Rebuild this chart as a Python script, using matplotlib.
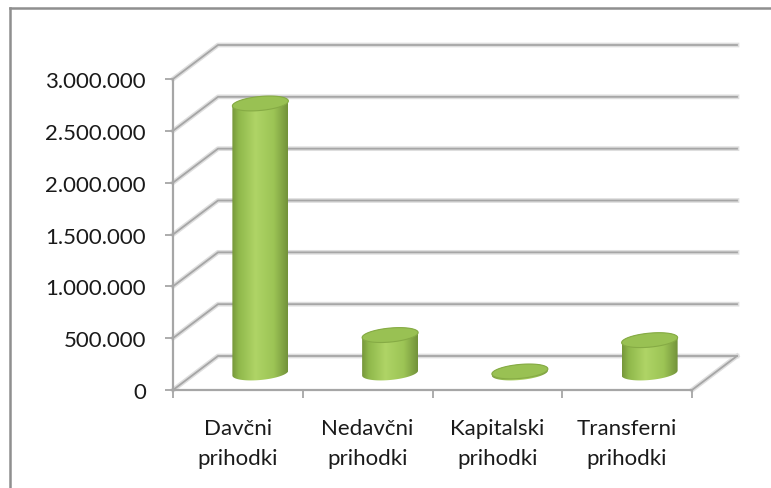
import numpy as np
import matplotlib
matplotlib.use('Agg')
import matplotlib.pyplot as plt
from matplotlib.patches import Polygon
from matplotlib.colors import LinearSegmentedColormap
from matplotlib.lines import Line2D

# ---- podatki ----
kategorije = ['Davčni\nprihodki', 'Nedavčni\nprihodki', 'Kapitalski\nprihodki', 'Transferni\nprihodki']
vrednosti = [2600000, 366000, 15000, 317000]
y_ticks = [0, 500000, 1000000, 1500000, 2000000, 2500000, 3000000]

plt.rcParams['font.family'] = ['Lato', 'DejaVu Sans']

W, H = 771, 489
fig = plt.figure(figsize=(W / 100, H / 100), dpi=100)

# sprednja ravnina grafa v pikslih
x0, x1, y0, y1 = 173, 692, 391, 80
ax = fig.add_axes([x0 / W, 1 - y0 / H, (x1 - x0) / W, (y0 - y1) / H])
ax.patch.set_visible(False)
ax.set_autoscale_on(False)
ax.set_xlim(0, 4)
ax.set_ylim(0, 3e6)

# globina 3D (piksli -> podatkovne enote)
px_x = 4 / (x1 - x0)
px_y = 3e6 / (y0 - y1)
DX, DY = 45 * px_x, 34 * px_y

grid_c = '#a6a6a6'
shadow_c = '#dedede'


def gline(xs, ys):
    ax.plot(xs, ys, color=shadow_c, lw=3.4, clip_on=False, zorder=1)
    ax.plot(xs, ys, color=grid_c, lw=1.3, clip_on=False, zorder=1.1)


# stranska stena + zadnja stena (mreža)
for v in y_ticks:
    gline([0, DX, 4 + DX], [v, v + DY, v + DY])
# desni rob tal
gline([4, 4 + DX], [0, DY])

# ---- valji ----
cmap = LinearSegmentedColormap.from_list(
    'valj', [(0, '#76963a'), (0.12, '#8fb84b'), (0.42, '#afd466'),
             (0.75, '#9cc455'), (1, '#72923a')])
a = 28 * px_x
b = 7 * px_y
tilt = (5 * px_y) / (56 * px_x)
tb = np.linspace(np.pi, 2 * np.pi, 60)
tt = np.linspace(0, np.pi, 60)
tf = np.linspace(0, 2 * np.pi, 121)

for i, v in enumerate(vrednosti):
    cx = i + 0.5 + DX / 2
    yb = DY / 2
    yt = v + DY / 2
    xs = np.concatenate([cx + a * np.cos(tb), cx + a * np.cos(tt)])
    ys = np.concatenate([yb + b * np.sin(tb) + tilt * a * np.cos(tb),
                         yt + b * np.sin(tt) + tilt * a * np.cos(tt)])
    body = Polygon(np.column_stack([xs, ys]), closed=True, facecolor='none',
                   edgecolor='none', zorder=3)
    ax.add_patch(body)
    im = ax.imshow(np.linspace(0, 1, 256)[None, :], cmap=cmap, aspect='auto',
                   extent=[cx - a, cx + a, yb - 3 * b, yt + 3 * b],
                   zorder=3, interpolation='bilinear')
    im.set_clip_path(body)
    top = Polygon(np.column_stack([cx + a * np.cos(tf),
                                   yt + b * np.sin(tf) + tilt * a * np.cos(tf)]),
                  closed=True, facecolor='#99c153', edgecolor='#86ab45',
                  lw=0.8, zorder=4, clip_on=False)
    ax.add_patch(top)

# ---- osi ----
for s in ['top', 'right']:
    ax.spines[s].set_visible(False)
for s in ['left', 'bottom']:
    ax.spines[s].set_color(grid_c)
    ax.spines[s].set_linewidth(1.6)

ax.set_yticks(y_ticks)
ax.set_yticklabels([f'{v:,}'.replace(',', '.') for v in y_ticks])
ax.tick_params(axis='y', length=6, width=1.3, color=grid_c, pad=13.5,
               labelsize=16, labelcolor='#1a1a1a')

ax.set_xticks(range(5))
ax.set_xticklabels([])
ax.tick_params(axis='x', which='major', length=6, width=1.3, color=grid_c)
ax.set_xticks([0.5, 1.5, 2.5, 3.5], minor=True)
ax.set_xticklabels(kategorije, minor=True, linespacing=1.65)
ax.tick_params(axis='x', which='minor', length=0, pad=20, labelsize=16,
               labelcolor='#1a1a1a')

# okvir slike
fig.add_artist(Line2D([10 / W, 1], [1 - 9 / H, 1 - 9 / H], transform=fig.transFigure,
                      color='#8f8f8f', lw=1.8))
fig.add_artist(Line2D([10 / W, 10 / W], [0, 1 - 9 / H], transform=fig.transFigure,
                      color='#8f8f8f', lw=1.8))

fig.savefig('out.png', dpi=100)
